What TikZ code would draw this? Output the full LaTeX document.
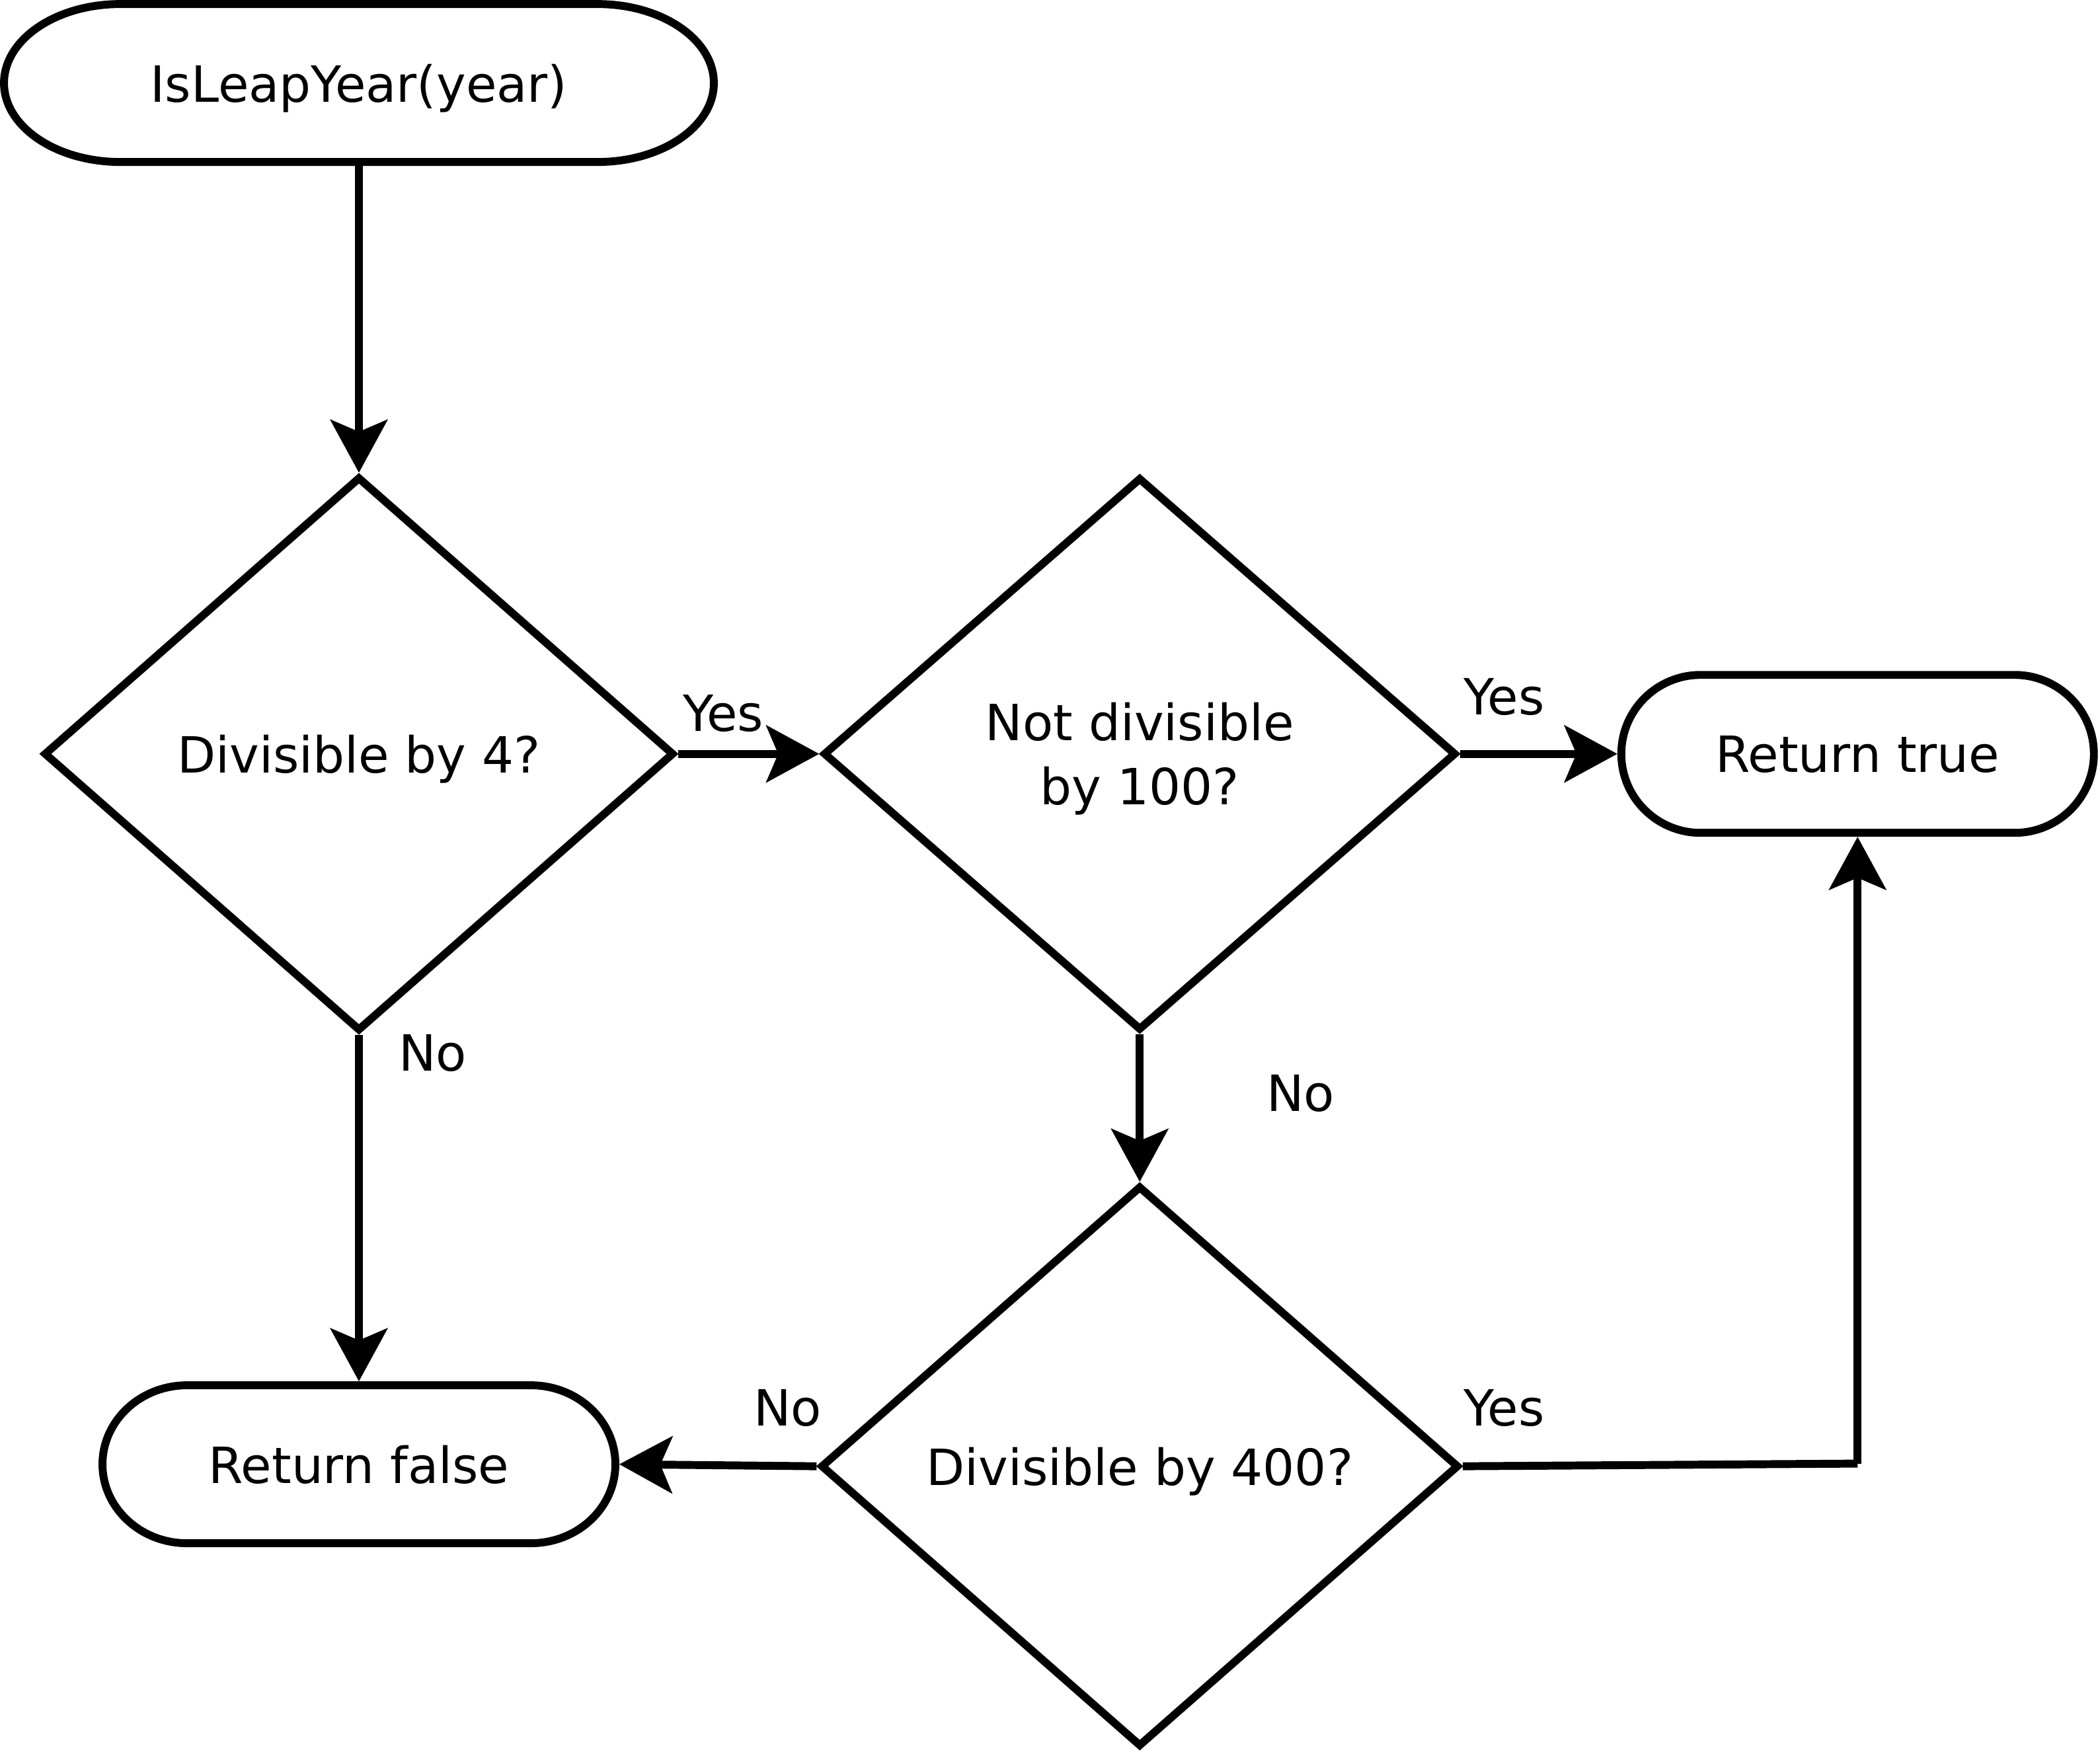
\documentclass[tikz,border=0pt]{standalone}
\usepackage{fontspec}
\setmainfont{DejaVu Sans}
\usetikzlibrary{shapes.geometric,arrows.meta}
\newcommand\txt{\fontsize{21.5pt}{27.6pt}\selectfont}
\tikzset{
 lw/.style={line width=3.4pt},
 decision/.style={diamond, draw, lw, inner sep=0pt, text depth=0pt, font=\txt, align=center},
 termbox/.style={rectangle, inner sep=0pt, outer sep=1.7pt, minimum height=2.39cm, text depth=0pt, font=\txt},
 conn/.style={lw, -{Stealth[length=8mm,width=8.6mm,inset=1.8mm]}},
 plain/.style={lw},
 lbl/.style={anchor=base, font=\txt, inner sep=0pt},
}
\newcommand\termdraw[3]{%
 \draw[lw] ([shift={(-#2,1.195cm)}]#1.center) -- ([shift={(#2,1.195cm)}]#1.center)
   arc[start angle=90,end angle=-90,x radius=#3,y radius=1.195cm]
   -- ([shift={(-#2,-1.195cm)}]#1.center)
   arc[start angle=270,end angle=90,x radius=#3,y radius=1.195cm] -- cycle;}
\begin{document}
\begin{tikzpicture}[x=0.020262cm,y=-0.020262cm]
\useasboundingbox (0,0) rectangle (1568,1308);
% terminals
\node[termbox, minimum width=10.74cm] (start) at (268,62) {IsLeapYear(year)};
\termdraw{start}{3.61cm}{1.76cm}
\node[termbox, minimum width=7.15cm] (rt) at (1387,563) {Return true};
\termdraw{rt}{2.375cm}{1.2cm}
\node[termbox, minimum width=7.76cm] (rf) at (268,1093.5) {Return false};
\termdraw{rf}{2.6cm}{1.28cm}
% decisions
\node[decision, minimum width=9.54cm, minimum height=8.39cm] (d1) at (268,563) {Divisible by 4?};
\node[decision, minimum width=9.58cm, minimum height=8.37cm] (d2) at (851,563) {Not divisible\\by 100?};
\node[decision, minimum width=9.66cm, minimum height=8.49cm] (d3) at (851,1095) {Divisible by 400?};
% connectors
\draw[conn] (start.south) -- (d1.north);
\draw[conn] (d1.east) -- (d2.west);
\draw[conn] (d2.east) -- (rt.west);
\draw[conn] (d2.south) -- (d3.north);
\draw[conn] (d1.south) -- (rf.north);
\draw[conn] (d3.west) -- (rf.east);
\coordinate (corner) at (1387,1093);
\draw[plain] (d3.east) -- (corner);
\draw[conn] (corner) -- (rt.south);
% labels
\node[lbl] (yes1) at (540,546) {Yes};
\node[lbl] (yes2) at (1123,534) {Yes};
\node[lbl] (yes3) at (1123,1065) {Yes};
\node[lbl] (no1) at (323,800) {No};
\node[lbl] (no2) at (971,830) {No};
\node[lbl] (no3) at (588,1065) {No};
\end{tikzpicture}
\end{document}
